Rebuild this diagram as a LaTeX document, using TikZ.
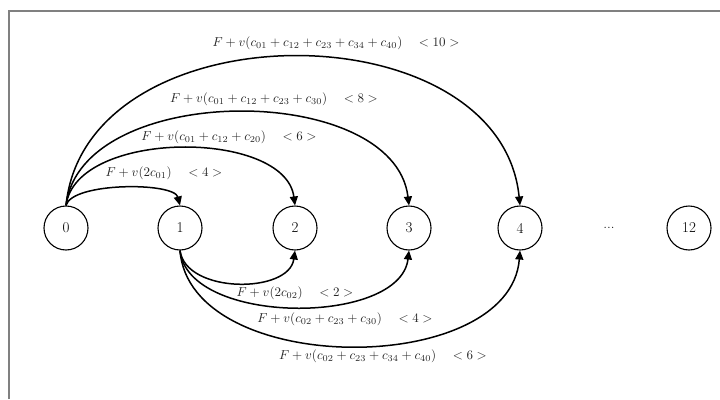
\documentclass[tikz,border=0pt]{standalone}
\usepackage{fontspec}
\usepackage{graphicx}
\usetikzlibrary{arrows.meta}
\newcommand{\lbl}[1]{\scalebox{1.3}{$#1$}}
\begin{document}
\begin{tikzpicture}[x=1pt,y=-1pt,
  vert/.style={circle,draw,line width=1.1pt,minimum size=44pt,inner sep=0pt,font=\fontsize{15}{17}\selectfont},
  arc/.style={line width=1.5pt,-{Triangle[length=9pt,width=8pt]}},
  lab/.style={text=black!85,inner sep=0pt}]
\useasboundingbox (0,0) rectangle (720,399);
\coordinate (fb) at (9,399);
\coordinate (fc) at (9,11);
\coordinate (fr) at (720,11);
\draw[gray,line width=2pt] (fb) -- (fc) -- (fr);
% vertices
\node[vert] (n0) at (66,228) {0};
\node[vert] (n1) at (180,228) {1};
\node[vert] (n2) at (295,228) {2};
\node[vert] (n3) at (409,228) {3};
\node[vert] (n4) at (520,228) {4};
\node[font=\fontsize{15}{17}\selectfont] (dots) at (609,228) {...};
\node[vert] (n12) at (689,228) {12};
% upper arcs
\draw[arc] (n0.north) .. controls (72,182) and (174,182) .. (n1.north);
\draw[arc] (n0.north) .. controls (76,129) and (285,129) .. (n2.north);
\draw[arc] (n0.north) .. controls (81,81) and (394,81) .. (n3.north);
\draw[arc] (n0.north) .. controls (86,7) and (500,7) .. (n4.north);
% lower arcs
\draw[arc] (n1.south) .. controls (186,294) and (289,294) .. (n2.south);
\draw[arc] (n1.south) .. controls (188,326) and (400,326) .. (n3.south);
\draw[arc] (n1.south) .. controls (190,378) and (510,378) .. (n4.south);
% labels
\node[lab] (l10) at (336,43) {\lbl{F+v(c_{01}+c_{12}+c_{23}+c_{34}+c_{40})\quad <10>}};
\node[lab] (l8) at (274,99) {\lbl{F+v(c_{01}+c_{12}+c_{23}+c_{30})\quad <8>}};
\node[lab] (l6) at (229,137) {\lbl{F+v(c_{01}+c_{12}+c_{20})\quad <6>}};
\node[lab] (l4) at (164,173) {\lbl{F+v(2c_{01})\quad <4>}};
\node[lab] (b2) at (295,293) {\lbl{F+v(2c_{02})\quad <2>}};
\node[lab] (b4) at (345,319) {\lbl{F+v(c_{02}+c_{23}+c_{30})\quad <4>}};
\node[lab] (b6) at (383,356) {\lbl{F+v(c_{02}+c_{23}+c_{34}+c_{40})\quad <6>}};
\end{tikzpicture}
\end{document}
